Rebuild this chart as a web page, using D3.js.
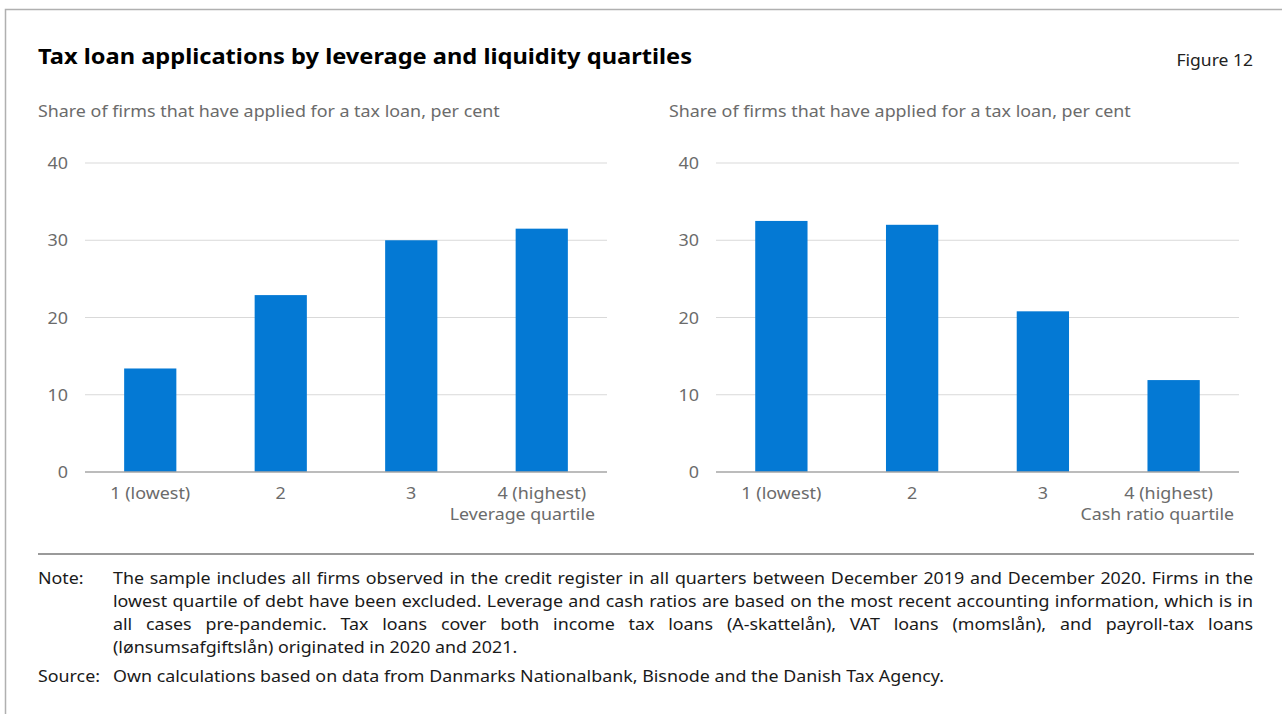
<!DOCTYPE html>
<html><head><meta charset="utf-8">
<script src="https://cdn.jsdelivr.net/npm/d3@7"></script>
<style>
html,body{margin:0;padding:0;background:#fff;}
svg{display:block;font-family:"Noto Sans",sans-serif;}
</style></head>
<body>
<svg id="chart" width="1282" height="714"></svg>
<script>
const categories = ["1 (lowest)", "2", "3", "4 (highest)"];
const leverageValues = [13.4, 22.9, 30.0, 31.5];
const cashValues = [32.5, 32.0, 20.8, 11.9];
const yTicks = [0, 10, 20, 30, 40];
const title = "Tax loan applications by leverage and liquidity quartiles";
const figLabel = "Figure 12";
const subtitle = "Share of firms that have applied for a tax loan, per cent";
const xTitles = ["Leverage quartile", "Cash ratio quartile"];
const noteLines = [
  "The sample includes all firms observed in the credit register in all quarters between December 2019 and December 2020. Firms in the",
  "lowest quartile of debt have been excluded. Leverage and cash ratios are based on the most recent accounting information, which is in",
  "all cases pre-pandemic. Tax loans cover both income tax loans (A-skattelån), VAT loans (momslån), and payroll-tax loans",
  "(lønsumsafgiftslån) originated in 2020 and 2021."
];
const sourceText = "Own calculations based on data from Danmarks Nationalbank, Bisnode and the Danish Tax Agency.";

const svg = d3.select("#chart");
const BAR = "#0479d4";
const GREY = "#6b6b6b";

function stretch(sel, f) {
  sel.each(function() {
    const w = this.getComputedTextLength();
    d3.select(this).attr("textLength", w*f).attr("lengthAdjust","spacingAndGlyphs");
  });
  return sel;
}

svg.append("rect").attr("x",5.5).attr("y",9.5).attr("width",1300).attr("height",800)
  .attr("fill","none").attr("stroke","#b0b0b0").attr("stroke-width",1.5);

stretch(svg.append("text").attr("x",38).attr("y",64).attr("font-size",21).attr("font-weight",700)
  .attr("fill","#000").text(title), 1.125);
stretch(svg.append("text").attr("x",1253).attr("y",66).attr("text-anchor","end").attr("font-size",15.5)
  .attr("fill","#222").text(figLabel), 1.13);

function panel(x0, x1, values, subX, xTitle, titleInset, lastShift) {
  const y = d3.scaleLinear().domain([0,40]).range([472,163]);
  const x = d3.scaleBand().domain(categories).range([x0,x1]).paddingInner(0.6).paddingOuter(0.3);
  stretch(svg.append("text").attr("x",subX).attr("y",117).attr("font-size",16).attr("fill",GREY).text(subtitle), 1.116);
  const g = svg.append("g");
  g.selectAll("line.grid").data(yTicks.filter(d=>d>0)).join("line")
    .attr("x1",x0).attr("x2",x1).attr("y1",d=>y(d)).attr("y2",d=>y(d))
    .attr("stroke","#d9d9d9").attr("stroke-width",1.2);
  stretch(g.selectAll("text.yl").data(yTicks).join("text")
    .attr("x",x0-17).attr("y",d=>y(d)+6).attr("text-anchor","end")
    .attr("font-size",16).attr("fill",GREY).text(d=>d), 1.12);
  g.selectAll("rect.bar").data(values).join("rect")
    .attr("x",(d,i)=>x(categories[i])).attr("width",x.bandwidth())
    .attr("y",d=>y(d)).attr("height",d=>y(0)-y(d)).attr("fill",BAR);
  g.append("line").attr("x1",x0).attr("x2",x1).attr("y1",y(0)).attr("y2",y(0))
    .attr("stroke","#a6a6a6").attr("stroke-width",1.5);
  stretch(g.selectAll("text.xl").data(categories).join("text")
    .attr("x",(d,i)=>x(d)+x.bandwidth()/2 + (i===categories.length-1 ? lastShift : 0))
    .attr("y",499).attr("text-anchor","middle")
    .attr("font-size",16).attr("fill",GREY).text(d=>d), 1.12);
  stretch(g.append("text").attr("x",x1-titleInset).attr("y",520).attr("text-anchor","end")
    .attr("font-size",16).attr("fill",GREY).text(xTitle), 1.11);
}
panel(85, 607, leverageValues, 38, xTitles[0], 12, 0);
panel(716, 1239, cashValues, 669, xTitles[1], 5, -5);

svg.append("line").attr("x1",38).attr("x2",1254).attr("y1",554).attr("y2",554)
  .attr("stroke","#9a9a9a").attr("stroke-width",2);

const NFS = 15.5, NF = 1.15;
stretch(svg.append("text").attr("x",38).attr("y",584).attr("font-size",NFS).attr("fill","#1a1a1a").text("Note:"), NF);
const left = 113, right = 1253;
noteLines.forEach((line, li) => {
  const yy = 584 + li*23;
  const words = line.split(" ");
  const t = svg.append("g");
  const nodes = words.map(w => t.append("text").attr("y",yy).attr("font-size",NFS).attr("fill","#1a1a1a").text(w));
  const widths = nodes.map(n => n.node().getComputedTextLength()*NF);
  nodes.forEach((n,i) => n.attr("textLength", widths[i]).attr("lengthAdjust","spacingAndGlyphs"));
  const total = d3.sum(widths);
  const justify = li < noteLines.length - 1;
  const space = justify ? (right-left-total)/(words.length-1) : NFS*0.26*NF;
  let cx = left;
  nodes.forEach((n,i) => { n.attr("x",cx); cx += widths[i] + space; });
});
stretch(svg.append("text").attr("x",38).attr("y",682).attr("font-size",NFS).attr("fill","#1a1a1a").text("Source:"), NF);
const src = svg.append("text").attr("x",left).attr("y",682).attr("font-size",NFS).attr("fill","#1a1a1a").text(sourceText);
src.attr("textLength", 831).attr("lengthAdjust","spacingAndGlyphs");
</script>
</body></html>
